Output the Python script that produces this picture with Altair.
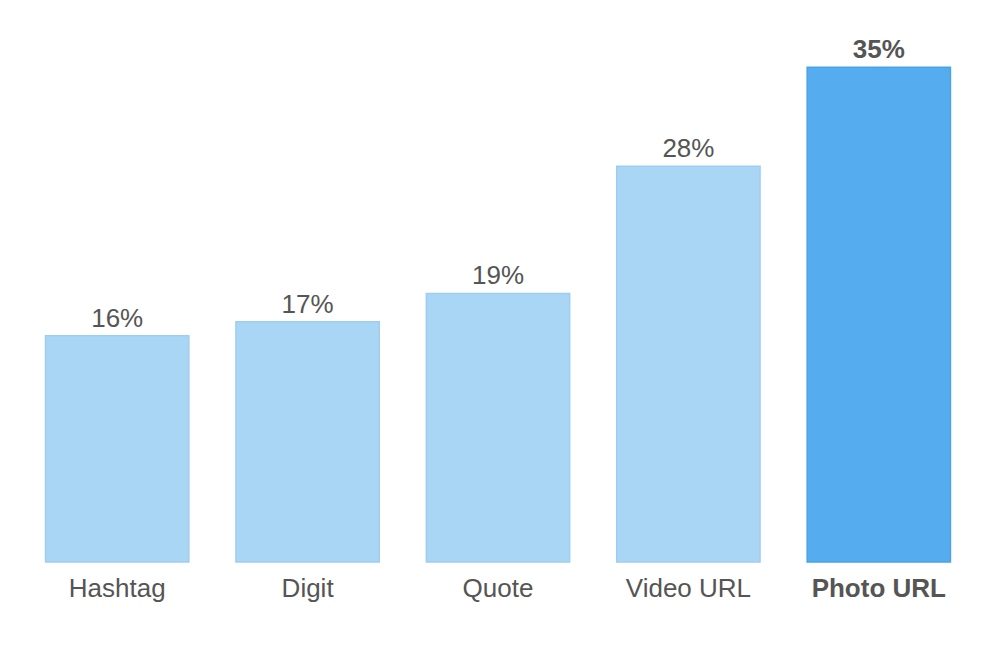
import altair as alt
import pandas as pd

categories = ["Hashtag", "Digit", "Quote", "Video URL", "Photo URL"]
values = [16, 17, 19, 28, 35]
highlight = [False, False, False, False, True]

df = pd.DataFrame({
    "cat": categories,
    "val": values,
    "hl": highlight,
    "label": [f"{v}%" for v in values],
})

x = alt.X("cat:N", sort=categories, axis=None,
          scale=alt.Scale(paddingInner=0.2474, paddingOuter=0.1237))
y = alt.Y("val:Q", axis=None, scale=alt.Scale(domain=[0, 37], nice=False))

base = alt.Chart(df)

bars = base.mark_bar(strokeWidth=1.5).encode(
    x=x, y=y,
    fill=alt.condition("datum.hl", alt.value("#55ACEE"), alt.value("#AAD6F6")),
    stroke=alt.condition("datum.hl", alt.value("#4AA3E6"), alt.value("#9ECDF1")),
)

layers = [bars]
for weight, test in [("normal", "!datum.hl"), ("bold", "datum.hl")]:
    layers.append(base.transform_filter(test).mark_text(
        baseline="alphabetic", dy=-9, fontSize=26, font="Liberation Sans",
        color="#555555", fontWeight=weight
    ).encode(x=x, y=y, text="label:N"))
    layers.append(base.transform_filter(test).mark_text(
        baseline="alphabetic", dy=35, fontSize=26, font="Liberation Sans",
        color="#555555", fontWeight=weight
    ).encode(x=x, y=alt.value(523), text="cat:N"))

chart = alt.layer(*layers).properties(
    width=952, height=523,
    background="white",
    autosize=alt.AutoSizeParams(type="none"),
    padding={"left": 14, "top": 31, "right": 0, "bottom": 80},
).configure_view(stroke="transparent", strokeWidth=0)

chart.save("out.html", embed_options={"renderer": "svg", "actions": False})
